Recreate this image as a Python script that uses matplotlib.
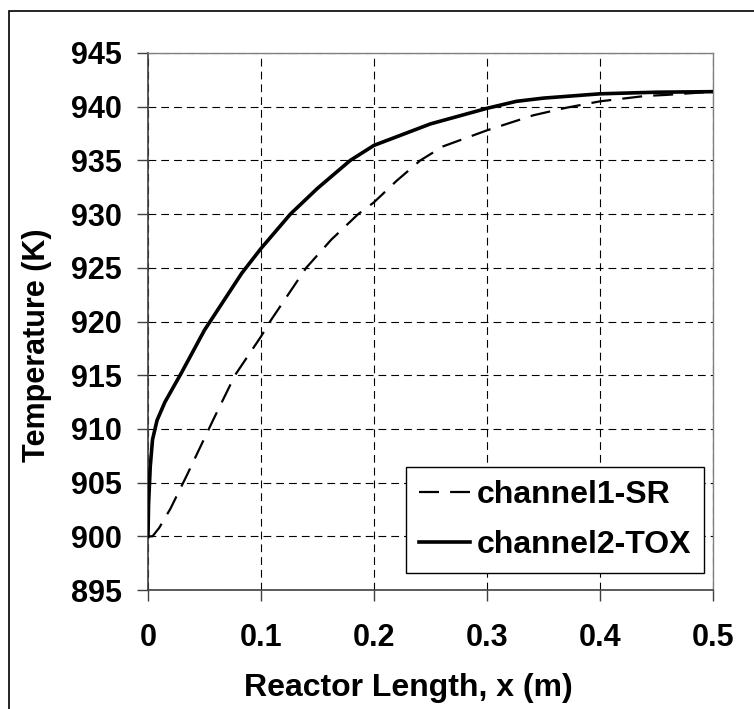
import matplotlib.pyplot as plt
from matplotlib.patches import Rectangle

# channel 1 (steam reforming) - dashed
x_sr = [0.0, 0.004, 0.01, 0.02, 0.034, 0.0575, 0.077, 0.1, 0.108, 0.14,
        0.162, 0.186, 0.2, 0.22, 0.241, 0.261, 0.3, 0.341, 0.37, 0.4, 0.44, 0.459, 0.5]
t_sr = [900.0, 900.0, 900.8, 902.6, 905.6, 910.8, 915.0, 918.6, 920.0, 925.0,
        927.6, 930.0, 931.1, 933.1, 935.0, 936.3, 937.8, 939.2, 939.9, 940.5, 941.0, 941.1, 941.4]

# channel 2 (total oxidation) - solid
x_tox = [0.0, 0.0005, 0.002, 0.004, 0.008, 0.015, 0.03, 0.05, 0.083, 0.1,
         0.126, 0.15, 0.179, 0.2, 0.25, 0.3, 0.326, 0.35, 0.4, 0.45, 0.5]
t_tox = [900.0, 903.0, 906.5, 909.0, 910.8, 912.5, 915.3, 919.2, 924.5, 926.8,
         930.0, 932.4, 935.0, 936.4, 938.4, 939.85, 940.5, 940.8, 941.2, 941.35, 941.4]

xticks = [0, 0.1, 0.2, 0.3, 0.4, 0.5]
xticklabels = ['0', '0.1', '0.2', '0.3', '0.4', '0.5']
yticks = [895, 900, 905, 910, 915, 920, 925, 930, 935, 940, 945]

plt.rcParams['font.family'] = ['Liberation Sans', 'DejaVu Sans']
plt.rcParams['font.weight'] = 'bold'
fs = 22

fig = plt.figure(figsize=(7.54, 7.09), dpi=100)
ax = fig.add_axes([148/754, 1 - 590/709, 565/754, 537/709])

# outer chart border (Excel style)
fig.patches.append(Rectangle((9/754, -0.05), 1.0, (709 - 11)/709 + 0.05,
                             transform=fig.transFigure, fill=False,
                             edgecolor='black', linewidth=1.2))

ax.plot(x_sr, t_sr, color='black', linewidth=1.6, dashes=(9, 5),
        label='channel1-SR', zorder=3)
ax.plot(x_tox, t_tox, color='black', linewidth=2.6,
        label='channel2-TOX', zorder=4)

ax.set_xlim(0, 0.5)
ax.set_ylim(895, 945)
ax.set_xticks(xticks)
ax.set_xticklabels(xticklabels)
ax.set_yticks(yticks)

ax.grid(True, color='black', linestyle=(0, (7, 4.5)), linewidth=0.8)
ax.set_axisbelow(True)

for s in ['top', 'right']:
    ax.spines[s].set_color('#808080')
    ax.spines[s].set_linewidth(1.0)
for s in ['left', 'bottom']:
    ax.spines[s].set_color('#404040')
    ax.spines[s].set_linewidth(1.2)

ax.tick_params(axis='both', direction='out', length=8, width=1.0,
               color='#404040', labelsize=fs)
ax.tick_params(axis='y', pad=11)
ax.tick_params(axis='x', pad=16)
for lbl in ax.get_xticklabels() + ax.get_yticklabels():
    lbl.set_fontweight('bold')

ax.set_xlabel('Reactor Length, x (m)', fontsize=23, fontweight='bold', labelpad=15)
ax.xaxis.set_label_coords(0.461, -0.155)
ax.set_ylabel('Temperature (K)', fontsize=fs, fontweight='bold', labelpad=10)
ax.yaxis.set_label_coords(-0.17, 0.456)

leg = ax.legend(loc='lower right', bbox_to_anchor=(0.984, 0.0317),
                fontsize=23, frameon=True, fancybox=False, handlelength=1.6,
                handletextpad=0.2, borderpad=0.4, labelspacing=0.64,
                borderaxespad=0)
leg.get_frame().set_edgecolor('black')
leg.get_frame().set_linewidth(1.0)
leg.get_frame().set_alpha(1.0)
for t in leg.get_texts():
    t.set_fontweight('bold')

fig.savefig('out.png', dpi=100)
